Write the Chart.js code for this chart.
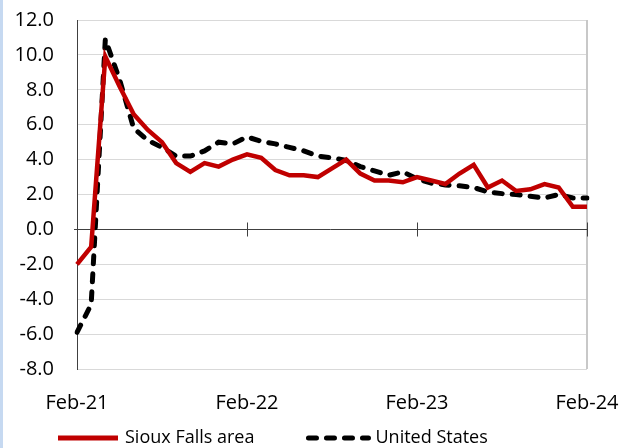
<!DOCTYPE html>
<html>
<head>
<meta charset="utf-8">
<script src="https://cdn.jsdelivr.net/npm/chart.js@4"></script>
<style>
  html, body { margin: 0; padding: 0; background: #fff; }
  #wrap { width: 624px; height: 448px; position: relative; }
  #borde { position: absolute; left: 0; top: 0; width: 3px; height: 448px; background: #c6d9f1; }
</style>
</head>
<body>
<div id="wrap"><canvas id="grafico" width="624" height="448"></canvas><div id="borde"></div></div>
<script>
// ----------------- DATOS -----------------
const meses = [
  'Feb-21','Mar-21','Apr-21','May-21','Jun-21','Jul-21','Aug-21','Sep-21','Oct-21','Nov-21','Dec-21','Jan-22',
  'Feb-22','Mar-22','Apr-22','May-22','Jun-22','Jul-22','Aug-22','Sep-22','Oct-22','Nov-22','Dec-22','Jan-23',
  'Feb-23','Mar-23','Apr-23','May-23','Jun-23','Jul-23','Aug-23','Sep-23','Oct-23','Nov-23','Dec-23','Jan-24',
  'Feb-24'
];
const siouxFalls = [
  -2.0, -1.0, 9.9, 8.2, 6.6, 5.7, 5.0, 3.8, 3.3, 3.8, 3.6, 4.0,
  4.3, 4.1, 3.4, 3.1, 3.1, 3.0, 3.5, 4.0, 3.2, 2.8, 2.8, 2.7,
  3.0, 2.8, 2.6, 3.2, 3.7, 2.4, 2.8, 2.2, 2.3, 2.6, 2.4, 1.3,
  1.3
];
const estadosUnidos = [
  -5.9, -4.3, 10.9, 8.6, 5.8, 5.1, 4.7, 4.2, 4.2, 4.5, 5.0, 4.9,
  5.3, 5.05, 4.9, 4.7, 4.5, 4.2, 4.1, 3.95, 3.6, 3.35, 3.1, 3.3,
  2.9, 2.65, 2.55, 2.5, 2.4, 2.15, 2.05, 2.0, 1.9, 1.8, 2.0, 1.8,
  1.8
];
const ticksY = { min: -8, max: 12, paso: 2 };

const FUENTE = '"Open Sans"';

// ----------------- EJE CERO + MARCAS + BORDE DERECHO -----------------
const ejeCero = {
  id: 'ejeCero',
  beforeDatasetsDraw(chart) {
    const { ctx, chartArea: a, scales: { x, y } } = chart;
    const y0 = Math.round(y.getPixelForValue(0)) + 0.5;
    ctx.save();
    ctx.strokeStyle = '#c8c8c8';
    ctx.lineWidth = 2;
    ctx.beginPath();
    ctx.moveTo(a.right, a.top);
    ctx.lineTo(a.right, a.bottom);
    ctx.stroke();
    ctx.strokeStyle = '#404040';
    ctx.lineWidth = 1;
    ctx.beginPath();
    ctx.moveTo(a.left - 3, y0);
    ctx.lineTo(a.right, y0);
    meses.forEach((m, i) => {
      if (i % 12 === 0 && i > 0) {
        const px = Math.round(x.getPixelForValue(i)) + 0.5;
        ctx.moveTo(px, y0 - 7);
        ctx.lineTo(px, y0 + 7);
      }
    });
    ctx.stroke();
    ctx.restore();
  }
};

// ----------------- LEYENDA (linea continua y discontinua) -----------------
const leyenda = {
  id: 'leyenda',
  afterDraw(chart) {
    const { ctx, chartArea: a } = chart;
    const yL = a.bottom + 69;
    let xL = 56;
    ctx.save();
    ctx.font = '18px ' + FUENTE;
    ctx.textBaseline = 'middle';
    ctx.textAlign = 'left';
    chart.data.datasets.forEach(ds => {
      ctx.strokeStyle = ds.borderColor;
      ctx.lineWidth = 5;
      ctx.lineCap = ds.borderCapStyle || 'butt';
      ctx.setLineDash(ds.borderDash || []);
      ctx.beginPath();
      ctx.moveTo(xL + 2, yL);
      ctx.lineTo(xL + 62, yL);
      ctx.stroke();
      ctx.setLineDash([]);
      ctx.fillStyle = '#000';
      ctx.fillText(ds.label, xL + 69, yL);
      xL += 69 + ctx.measureText(ds.label).width + 52;
    });
    ctx.restore();
  }
};

new Chart(document.getElementById('grafico'), {
  type: 'line',
  data: {
    labels: meses,
    datasets: [{
      label: 'Sioux Falls area',
      data: siouxFalls,
      borderColor: '#c00000',
      backgroundColor: '#c00000',
      borderWidth: 4.5,
      pointRadius: 0,
      tension: 0,
      fill: false
    }, {
      label: 'United States',
      data: estadosUnidos,
      borderColor: '#000000',
      backgroundColor: '#000000',
      borderWidth: 5,
      borderDash: [8, 10],
      borderCapStyle: 'round',
      pointRadius: 0,
      tension: 0,
      fill: false
    }]
  },
  options: {
    responsive: false,
    animation: false,
    devicePixelRatio: 1,
    layout: { padding: { top: 20, right: 37, left: 3, bottom: 34 } },
    plugins: {
      tooltip: { enabled: false },
      legend: { display: false }
    },
    scales: {
      x: {
        type: 'category',
        offset: false,
        grid: { display: false },
        border: { display: false },
        ticks: {
          autoSkip: false,
          maxRotation: 0,
          color: '#000',
          font: { family: FUENTE, size: 20 },
          padding: 14,
          callback: (v, i) => (i % 12 === 0 ? meses[i] : '')
        },
        afterFit: s => { s.height = 45; s.paddingLeft = 0; s.paddingRight = 0; }
      },
      y: {
        min: ticksY.min,
        max: ticksY.max,
        grid: { color: '#d9d9d9', lineWidth: 1, drawTicks: false },
        border: { display: true, color: '#404040', width: 1 },
        ticks: {
          stepSize: ticksY.paso,
          color: '#000',
          font: { family: FUENTE, size: 20 },
          padding: 23,
          callback: v => v.toFixed(1)
        },
        afterFit: s => { s.width = 74; s.paddingTop = 0; s.paddingBottom = 0; }
      }
    }
  },
  plugins: [ejeCero, leyenda]
});
</script>
</body>
</html>
